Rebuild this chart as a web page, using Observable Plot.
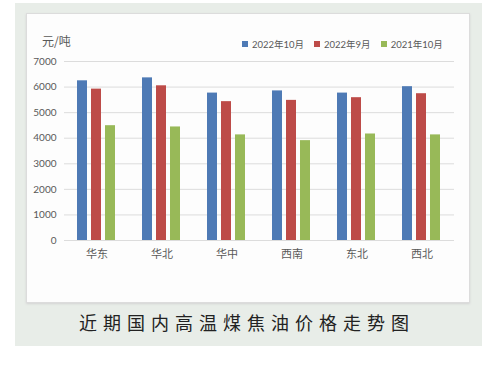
<!DOCTYPE html>
<html>
<head>
<meta charset="utf-8">
<script src="https://cdn.jsdelivr.net/npm/d3@7"></script>
<script src="https://cdn.jsdelivr.net/npm/@observablehq/plot@0.6"></script>
<style>
  html, body { margin: 0; padding: 0; background: #ffffff; width: 487px; height: 367px; overflow: hidden; }
  #outer { position: absolute; left: 15px; top: 3px; width: 467px; height: 343px; background: #e8ede8; }
  #panel { position: absolute; left: 26px; top: 13px; width: 442px; height: 288px; background: #fdfdfd;
           border: 1px solid #dcdcdc; box-shadow: 0 1px 2px #d4d4d4; }
  #chart { position: absolute; left: 26px; top: 13px; }
  #unit { position: absolute; left: 42px; top: 32px; font: 12px "Noto Sans CJK SC", sans-serif; color: #595959; }
  #legend { position: absolute; left: 242px; top: 37px; display: flex; font: 9.5px Lato, "Noto Sans CJK SC", sans-serif; color: #595959; }
  #legend .item { display: flex; align-items: center; margin-right: 10px; }
  #legend .sw { width: 6px; height: 6px; margin-right: 4px; }
  #caption { position: absolute; left: 0; width: 494px; top: 309px; text-align: center;
             font: 18px "Noto Sans CJK SC", sans-serif; letter-spacing: 6px; color: #222; }
</style>
</head>
<body>
<div id="outer"></div>
<div id="panel"></div>
<div id="chart"></div>
<div id="unit">元/吨</div>
<div id="legend"></div>
<div id="caption">近期国内高温煤焦油价格走势图</div>
<script>
const regions = ["华东", "华北", "华中", "西南", "东北", "西北"];
const seriesNames = ["2022年10月", "2022年9月", "2021年10月"];
const oct2022 = [6245, 6360, 5765, 5850, 5765, 6015];
const sep2022 = [5920, 6050, 5430, 5480, 5585, 5740];
const oct2021 = [4490, 4440, 4130, 3905, 4165, 4130];
const yTicks = [0, 1000, 2000, 3000, 4000, 5000, 6000, 7000];
const colors = ["#4e7ab5", "#bd4b48", "#98b958"];

const seriesValues = [oct2022, sep2022, oct2021];
const rows = [];
regions.forEach((r, i) => {
  seriesNames.forEach((s, j) => rows.push({region: r, series: s, value: seriesValues[j][i]}));
});

const chart = Plot.plot({
  width: 443,
  height: 260,
  marginLeft: 36,
  marginRight: 13,
  marginTop: 48,
  marginBottom: 33,
  style: {fontFamily: 'Lato, "Noto Sans CJK SC", sans-serif', fontSize: "10px", color: "#595959", background: "transparent"},
  fx: {domain: regions, padding: 0, label: null},
  x: {domain: seriesNames, paddingInner: 0.28, paddingOuter: 0.86, axis: null},
  y: {domain: [0, 7000], label: null},
  color: {domain: seriesNames, range: colors},
  marks: [
    Plot.ruleY(yTicks, {stroke: "#dcdcdc", strokeWidth: 1}),
    Plot.axisY(yTicks, {tickSize: 0, tickPadding: 8, label: null, fontSize: 10, tickFormat: d => String(d)}),
    Plot.axisFx({anchor: "bottom", tickSize: 0, tickPadding: 10, label: null, fontSize: 11, fontFamily: '"Noto Sans CJK SC", sans-serif'}),
    Plot.barY(rows, {fx: "region", x: "series", y: "value", fill: "series"})
  ]
});
document.getElementById("chart").appendChild(chart);

const legend = document.getElementById("legend");
seriesNames.forEach((s, j) => {
  const item = document.createElement("div");
  item.className = "item";
  const sw = document.createElement("div");
  sw.className = "sw";
  sw.style.background = colors[j];
  item.appendChild(sw);
  const t = document.createElement("span");
  t.textContent = s;
  item.appendChild(t);
  legend.appendChild(item);
});
</script>
</body>
</html>
